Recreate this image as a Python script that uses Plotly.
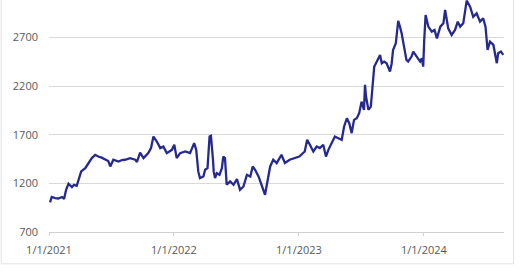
import plotly.graph_objects as go

dates = [
    "2021-01-04", "2021-01-09", "2021-01-19", "2021-01-28", "2021-02-08", "2021-02-14",
    "2021-02-20", "2021-02-27", "2021-03-09", "2021-03-15", "2021-03-23", "2021-03-28",
    "2021-04-05", "2021-04-17", "2021-04-26", "2021-05-06", "2021-05-16", "2021-05-25",
    "2021-06-04", "2021-06-14", "2021-06-23", "2021-06-29", "2021-07-08", "2021-07-23",
    "2021-08-02", "2021-08-11", "2021-08-26", "2021-09-10", "2021-09-15", "2021-09-24",
    "2021-10-04", "2021-10-18", "2021-10-26", "2021-11-02", "2021-11-12", "2021-11-22",
    "2021-12-01", "2021-12-11", "2021-12-26", "2022-01-02", "2022-01-09", "2022-01-19",
    "2022-02-03", "2022-02-17", "2022-03-01", "2022-03-07", "2022-03-13", "2022-03-18",
    "2022-03-28", "2022-04-02", "2022-04-09", "2022-04-15", "2022-04-19", "2022-04-25",
    "2022-04-27", "2022-05-01", "2022-05-06", "2022-05-14", "2022-05-21", "2022-05-25",
    "2022-05-30", "2022-06-04", "2022-06-14", "2022-06-24", "2022-07-04", "2022-07-13",
    "2022-07-23", "2022-08-02", "2022-08-12", "2022-08-19", "2022-08-26", "2022-09-05",
    "2022-09-15", "2022-09-24", "2022-10-01", "2022-10-09", "2022-10-18", "2022-10-28",
    "2022-11-11", "2022-11-21", "2022-12-05", "2022-12-20", "2023-01-02", "2023-01-18",
    "2023-01-25", "2023-02-02", "2023-02-12", "2023-02-22", "2023-03-03", "2023-03-13",
    "2023-03-21", "2023-03-28", "2023-04-07", "2023-04-16", "2023-04-26", "2023-05-06",
    "2023-05-13", "2023-05-21", "2023-05-28", "2023-06-04", "2023-06-11", "2023-06-19",
    "2023-06-26", "2023-07-03", "2023-07-10", "2023-07-13", "2023-07-16", "2023-07-23",
    "2023-07-30", "2023-08-05", "2023-08-09", "2023-08-14", "2023-08-21", "2023-08-26",
    "2023-08-31", "2023-09-07", "2023-09-14", "2023-09-24", "2023-09-29", "2023-10-03",
    "2023-10-11", "2023-10-18", "2023-10-23", "2023-10-28", "2023-11-04", "2023-11-11",
    "2023-11-16", "2023-11-26", "2023-12-01", "2023-12-11", "2023-12-21", "2023-12-26",
    "2023-12-30", "2024-01-02", "2024-01-06", "2024-01-14", "2024-01-24", "2024-02-01",
    "2024-02-08", "2024-02-18", "2024-02-27", "2024-03-03", "2024-03-08", "2024-03-12",
    "2024-03-22", "2024-04-01", "2024-04-09", "2024-04-16", "2024-04-25", "2024-05-02",
    "2024-05-05", "2024-05-15", "2024-05-24", "2024-06-03", "2024-06-13", "2024-06-22",
    "2024-06-29", "2024-07-05", "2024-07-12", "2024-07-22", "2024-07-27", "2024-08-01",
    "2024-08-05", "2024-08-13", "2024-08-20",
]

values = [
    1005, 1060, 1049, 1045, 1060, 1040,
    1134, 1196, 1162, 1185, 1175, 1237,
    1323, 1357, 1409, 1460, 1494, 1476,
    1465, 1443, 1430, 1374, 1443, 1425,
    1440, 1443, 1460, 1443, 1420, 1517,
    1460, 1511, 1563, 1682, 1630, 1563,
    1579, 1511, 1545, 1597, 1460, 1511,
    1528, 1511, 1614, 1545, 1323, 1255,
    1271, 1340, 1357, 1682, 1689, 1443,
    1323, 1255, 1305, 1288, 1357, 1476,
    1460, 1186, 1220, 1186, 1244, 1134,
    1168, 1288, 1271, 1374, 1340, 1271,
    1168, 1083, 1220, 1374, 1443, 1409,
    1494, 1409, 1443, 1460, 1476, 1528,
    1648, 1597, 1528, 1579, 1563, 1597,
    1476, 1545, 1614, 1682, 1665, 1648,
    1785, 1870, 1819, 1717, 1853, 1870,
    1922, 2041, 1956, 2213, 2093, 1956,
    1990, 2230, 2401, 2436, 2487, 2521,
    2436, 2453, 2436, 2350, 2436, 2572,
    2641, 2871, 2812, 2744, 2606, 2470,
    2453, 2504, 2555, 2504, 2453, 2487,
    2401, 2675, 2932, 2812, 2761, 2778,
    2692, 2812, 2846, 2983, 2846, 2795,
    2726, 2778, 2863, 2812, 2846, 3034,
    3080, 3017, 2914, 2949, 2863, 2898,
    2812, 2572, 2658, 2624, 2504, 2436,
    2538, 2555, 2521,
]

y_ticks = [700, 1200, 1700, 2200, 2700]
x_ticks = ["2021-01-01", "2022-01-01", "2023-01-01", "2024-01-01"]
x_tick_labels = ["1/1/2021", "1/1/2022", "1/1/2023", "1/1/2024"]

fig = go.Figure()
fig.add_trace(go.Scatter(
    x=dates, y=values, mode="lines",
    line=dict(color="#262a8f", width=2.3),
    hoverinfo="x+y",
))

font = dict(family="Open Sans, Liberation Sans, sans-serif", size=11, color="#595959")

fig.update_layout(
    width=520, height=272,
    margin=dict(l=49, r=16, t=0, b=40),
    paper_bgcolor="white", plot_bgcolor="white",
    showlegend=False,
    font=font,
    xaxis=dict(
        range=["2021-01-01", "2024-08-22"],
        tickvals=x_ticks, ticktext=x_tick_labels,
        showgrid=False, zeroline=False,
        showline=True, linecolor="#d0d0d0", linewidth=1,
        ticks="outside", ticklen=3, tickcolor="#d0d0d0",
        tickfont=font, ticklabelstandoff=5,
    ),
    yaxis=dict(
        range=[700, 3086],
        tickvals=y_ticks,
        showgrid=True, gridcolor="#d9d9d9", gridwidth=1,
        zeroline=False, showline=False,
        ticks="", tickfont=font, ticklabelstandoff=10,
    ),
    shapes=[dict(
        type="rect", xref="paper", yref="paper",
        x0=-0.105, x1=1.021, y0=-0.137, y1=1.05,
        line=dict(color="#e3e3e3", width=1), layer="below",
    )],
)

fig.write_html("out.html")
